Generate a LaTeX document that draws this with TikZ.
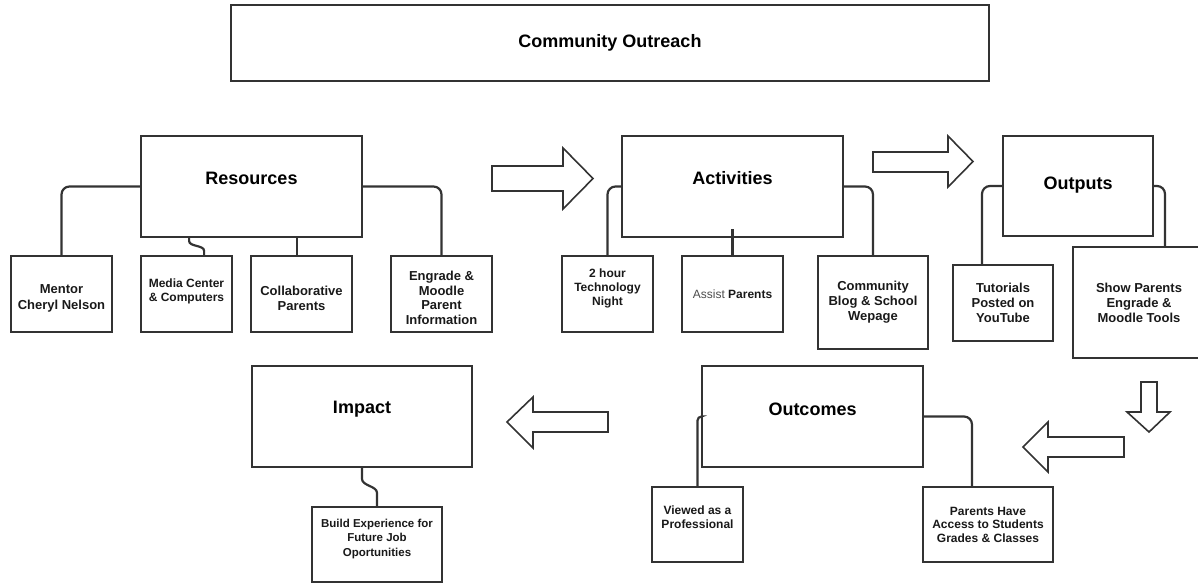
\documentclass[tikz,border=0pt]{standalone}
\usepackage{fontspec}
\setmainfont{Liberation Sans}
\usepackage{tikz}
\usetikzlibrary{calc}
\tikzset{
  box/.style={
    draw=black!80,
    line width=1.8pt,
    rectangle,
    inner sep=0pt,
    align=center,
    text=black!90,
    font=\fontsize{13}{15}\selectfont\bfseries},
  big/.style={
    box,
    minimum width=221pt,
    minimum height=101pt},
  small/.style={
    box,
    minimum width=101pt,
    minimum height=76pt},
  lab/.style={
    align=center,
    text=black!90,
    font=\fontsize{12}{14}\selectfont\bfseries},
  head/.style={
    text=black,
    font=\fontsize{18}{21}\selectfont\bfseries},
  wire/.style={
    draw=black!80,
    line width=2.2pt},
  link/.style={
    wire,
    rounded corners=8pt},
  blk/.style={
    draw=black!80,
    line width=1.6pt,
    line join=miter}
  }

\begin{document}
\begin{tikzpicture}[x=1pt,y=-1pt]
		\useasboundingbox (0,0) rectangle (1198,584);
		\node [box, minimum width=758pt, minimum height=76pt, font=\fontsize{18}{21}\selectfont\bfseries, text=black] (top) at (610,43) {Community Outreach};
		\node [big, label={[head, yshift=8.5pt]center:Resources}] (res) at (251.5,186.5) {};
		\node [big, label={[head, yshift=8.5pt]center:Activities}] (act) at (732.5,186.5) {};
		\node [big, minimum width=150pt, minimum height=100pt, label={[head, yshift=1pt]center:Outputs}] (out) at (1078,186) {};
		\node [big, label={[head, yshift=7.5pt]center:Outcomes}] (outc) at (812.5,416.5) {};
		\node [big, minimum width=220pt, label={[head, yshift=7.5pt]center:Impact}] (imp) at (362,416.5) {};
		\node [small, label={[lab, font=\fontsize{13}{15.5}\selectfont\bfseries, yshift=-4.5pt]center:{Mentor\\Cheryl Nelson}}] (mentor) at (61.5,294) {};
		\node [small, minimum width=91pt, label={[lab, yshift=2.5pt]center:{Media Center\\\& Computers}}] (media) at (186.5,294) {};
		\node [small, label={[lab, font=\fontsize{13}{15.5}\selectfont\bfseries, yshift=-4.5pt]center:{Collaborative\\Parents}}] (collab) at (301.5,294) {};
		\node [small, label={[lab, font=\fontsize{13}{14.5}\selectfont\bfseries, yshift=-4pt]center:{Engrade \&\\Moodle\\Parent\\Information}}] (engr) at (441.5,294) {};
		\node [small, minimum width=91pt, label={[lab, yshift=6pt]center:{2 hour\\Technology\\Night}}] (tech) at (607.5,294) {};
		\node [small, font=\fontsize{12}{14}\selectfont\bfseries] (assist) at (732.5,294) {{\mdseries\color{black!70}Assist} Parents};
		\node [small, minimum width=110pt, minimum height=93pt] (blog) at (873,302.5) {Community\\Blog \& School\\Wepage};
		\node [small, minimum width=100pt] (tut) at (1003,303) {Tutorials\\Posted on\\YouTube};
		\node [small, minimum width=132pt, minimum height=111pt] (show) at (1139,302.5) {Show Parents\\Engrade \&\\Moodle Tools};
		\node [small, minimum width=91pt, minimum height=75pt, label={[lab, yshift=7.5pt]center:{Viewed as a\\Professional}}] (viewed) at (697.5,524.5) {};
		\node [small, minimum width=130pt, minimum height=75pt, font=\fontsize{12}{13.5}\selectfont\bfseries] (have) at (988,524.5) {Parents Have\\Access to Students\\Grades \& Classes};
		\node [small, minimum width=130pt, minimum height=75pt, label={[lab, font=\fontsize{11.5}{14.5}\selectfont\bfseries, yshift=5.5pt]center:{Build Experience for\\Future Job\\Oportunities}}] (build) at (377,544.5) {};
		\draw [link] (res.west) -| (mentor.north);
		\draw [wire] ([xshift=49pt]res.south west) -- ++(0,3) .. controls +(0,6) and +(0,-6) .. ++(15,10) -- ([xshift=64pt]media.north west);
		\draw [wire] ([xshift=-4.5pt]collab.north) -- ([xshift=-4.5pt]collab.north |- res.south);
		\draw [link] (res.east) -| (engr.north);
		\draw [link] (act.west) -| (tech.north);
		\draw [wire] (assist.north) -- ([yshift=9pt]assist.north |- act.south);
		\draw [link] (act.east) -| (blog.north);
		\draw [link] (out.west) -| ([xshift=-21pt]tut.north);
		\draw [link] (out.east) -| ([xshift=26pt]show.north);
		\draw [link, rounded corners=4pt] (outc.west) -| (viewed.north);
		\draw [link] (outc.east) -| ([xshift=-16pt]have.north);
		\draw [wire] (imp.south) -- ++(0,11) .. controls +(0,7) and +(0,-7) .. ++(15,14) -- (build.north);
		\draw [blk] (492,166) -- (563,166) -- (563,148) -- (593,178.5) -- (563,209) -- (563,191) -- (492,191) -- cycle;
		\draw [blk] (873,152) -- (948,152) -- (948,136) -- (973,161.5) -- (948,187) -- (948,172) -- (873,172) -- cycle;
		\draw [blk] (1141,382) -- (1157,382) -- (1157,412) -- (1170,412) -- (1149,432) -- (1127,412) -- (1141,412) -- cycle;
		\draw [blk] (1124,437) -- (1048,437) -- (1048,422) -- (1023,447) -- (1048,472) -- (1048,457) -- (1124,457) -- cycle;
		\draw [blk] (608,412) -- (533,412) -- (533,397) -- (507,422) -- (533,448) -- (533,432) -- (608,432) -- cycle;
	\end{tikzpicture}
\end{document}
